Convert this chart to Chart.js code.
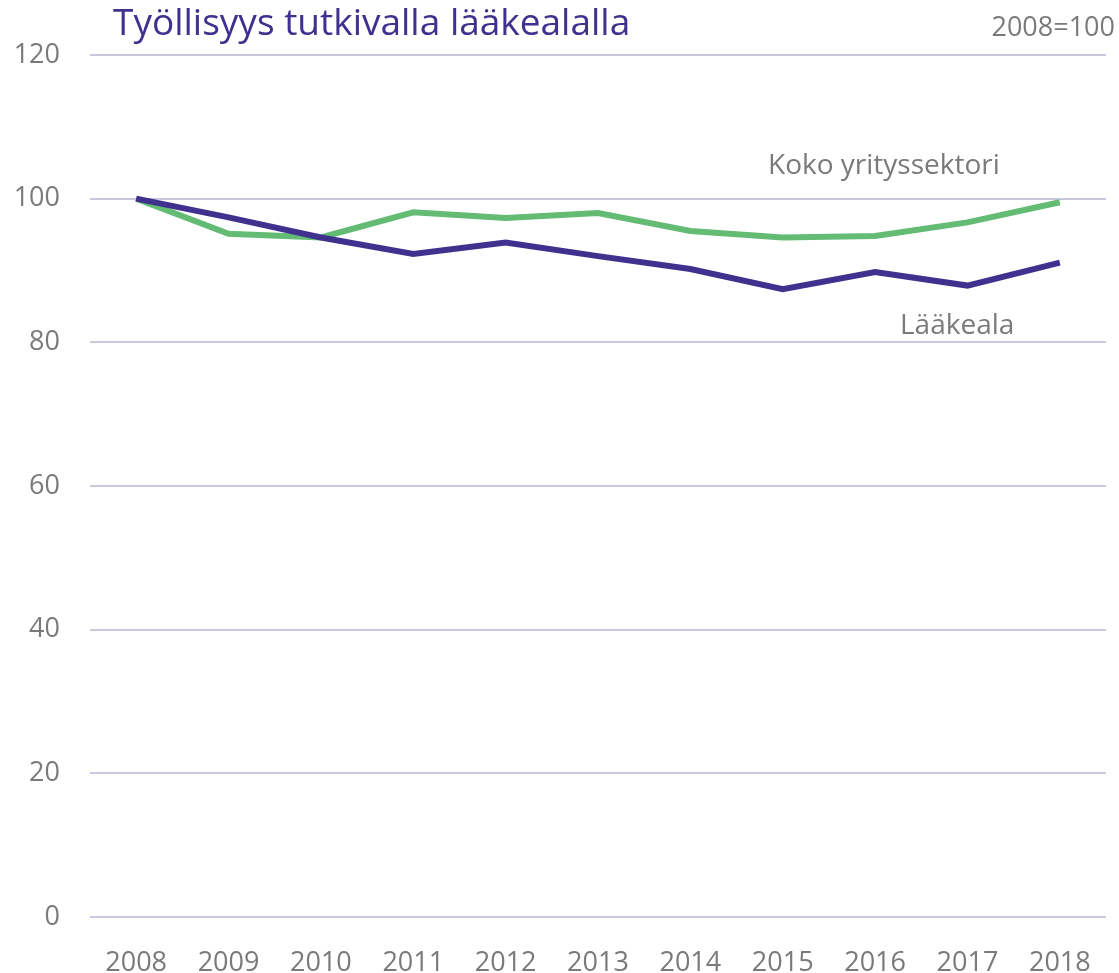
<!DOCTYPE html>
<html>
<head>
<meta charset="utf-8">
<script src="https://cdn.jsdelivr.net/npm/chart.js@4/dist/chart.umd.min.js"></script>
<style>
  html, body { margin: 0; padding: 0; background: #fff; }
  #wrap { width: 1119px; height: 973px; }
</style>
</head>
<body>
<div id="wrap"><canvas id="chartEmployment"></canvas></div>
<script>
var years = ["2008", "2009", "2010", "2011", "2012", "2013", "2014", "2015", "2016", "2017", "2018"];
var laakeala = [100, 97.4, 94.6, 92.3, 93.9, 92.0, 90.2, 87.4, 89.8, 87.9, 91.1];
var kokoYrityssektori = [100, 95.1, 94.6, 98.1, 97.3, 98.0, 95.5, 94.6, 94.8, 96.7, 99.5];
var yTicks = [0, 20, 40, 60, 80, 100, 120];

var fontName = "'Open Sans', 'Liberation Sans', sans-serif";

// title, base note and line labels
var textPlugin = {
    id: 'texts',
    afterDraw: function(chart) {
        var c = chart.ctx;
        c.save();
        c.textBaseline = 'middle';
        c.fillStyle = '#3f318f';
        c.font = '37px ' + fontName;
        c.textAlign = 'left';
        c.fillText('Työllisyys tutkivalla lääkealalla', 113, 24);
        c.fillStyle = '#7a7a7a';
        c.font = '27px ' + fontName;
        c.textAlign = 'right';
        c.fillText('2008=100', 1115, 28);
        c.font = '28px ' + fontName;
        c.textAlign = 'left';
        c.fillText('Koko yrityssektori', 768, 166);
        c.fillText('Lääkeala', 900, 326);
        c.restore();
    }
};

var ctx = document.getElementById('chartEmployment').getContext('2d');
var chart = new Chart(ctx, {
    type: 'line',
    data: {
        labels: years,
        datasets: [{
            label: 'Lääkeala',
            data: laakeala,
            borderColor: '#40318f',
            borderWidth: 6,
            pointRadius: 0,
            tension: 0
        }, {
            label: 'Koko yrityssektori',
            data: kokoYrityssektori,
            borderColor: '#63bb74',
            borderWidth: 6,
            pointRadius: 0,
            tension: 0
        }]
    },
    options: {
        responsive: true,
        maintainAspectRatio: false,
        animation: false,
        layout: { padding: { top: 55, right: 13, left: 0, bottom: 0 } },
        plugins: {
            legend: { display: false },
            title: { display: false },
            tooltip: { enabled: false }
        },
        scales: {
            x: {
                offset: true,
                grid: { display: false },
                border: { display: false },
                ticks: {
                    color: '#7a7a7a',
                    font: { family: fontName, size: 27 },
                    padding: 22,
                    maxRotation: 0
                },
                afterFit: function(scale) { scale.height = 56; }
            },
            y: {
                min: 0,
                max: 120,
                afterBuildTicks: function(scale) {
                    scale.ticks = yTicks.map(function(v) { return { value: v }; });
                },
                grid: { color: '#cac8de', lineWidth: 2, drawTicks: false },
                border: { display: false },
                ticks: {
                    color: '#7a7a7a',
                    font: { family: fontName, size: 27 },
                    padding: 30
                },
                afterFit: function(scale) { scale.width = 90; }
            }
        }
    },
    plugins: [textPlugin]
});
</script>
</body>
</html>
